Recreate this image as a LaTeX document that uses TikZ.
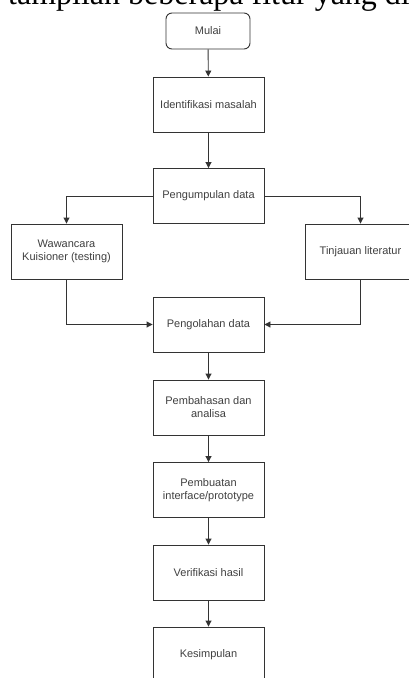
\documentclass[tikz,border=0pt]{standalone}
\usepackage{fontspec}
\setmainfont{Liberation Sans}
\newfontfamily\headserif{Liberation Serif}
\usetikzlibrary{arrows.meta,positioning}
\tikzset{
  stepbox/.style={draw=black!80, line width=0.9pt, fill=white, minimum width=111pt, minimum height=55pt, inner sep=0pt, align=center, text=black!75, font=\fontsize{11}{13}\selectfont},
  startbox/.style={stepbox, rounded corners=6pt, minimum width=84pt, minimum height=36pt},
  conn/.style={draw=black!80, line width=0.9pt, -{Triangle[length=6pt,width=6pt]}}
}
\begin{document}
\begin{tikzpicture}[x=1pt,y=-1pt]
\useasboundingbox (0,0) rectangle (409,678);
\clip (0,0) rectangle (409,678);
\node[anchor=base west, inner sep=0pt, font=\headserif\fontsize{32}{36}\selectfont] (head) at (8,4.5) {tampilan beberapa fitur yang di};
\node[startbox] (mulai) at (208,31) {Mulai};
\node[stepbox] (ident) at (208.5,104.5) {Identifikasi masalah};
\node[stepbox] (kumpul) at (208.5,196) {Pengumpulan data};
\node[stepbox] (wawan) at (66.5,251.5) {Wawancara\\Kuisioner (testing)};
\node[stepbox] (tinjau) at (360.5,251.5) {Tinjauan literatur};
\node[stepbox] (olah) at (208.5,324.5) {Pengolahan data};
\node[stepbox] (bahas) at (208.5,407.5) {Pembahasan dan\\analisa};
\node[stepbox] (buat) at (208.5,490) {Pembuatan\\interface/prototype};
\node[stepbox] (verif) at (208.5,572.5) {Verifikasi hasil};
\node[stepbox] (simpul) at (208.5,654.5) {Kesimpulan};
\draw[conn] (mulai) -- (ident);
\draw[conn] (ident) -- (kumpul);
\draw[conn] (kumpul.west) -| (wawan.north);
\draw[conn] (kumpul.east) -| (tinjau.north);
\draw[conn] (wawan.south) |- (olah.west);
\draw[conn] (tinjau.south) |- (olah.east);
\draw[conn] (olah) -- (bahas);
\draw[conn] (bahas) -- (buat);
\draw[conn] (buat) -- (verif);
\draw[conn] (verif) -- (simpul);
\end{tikzpicture}
\end{document}
